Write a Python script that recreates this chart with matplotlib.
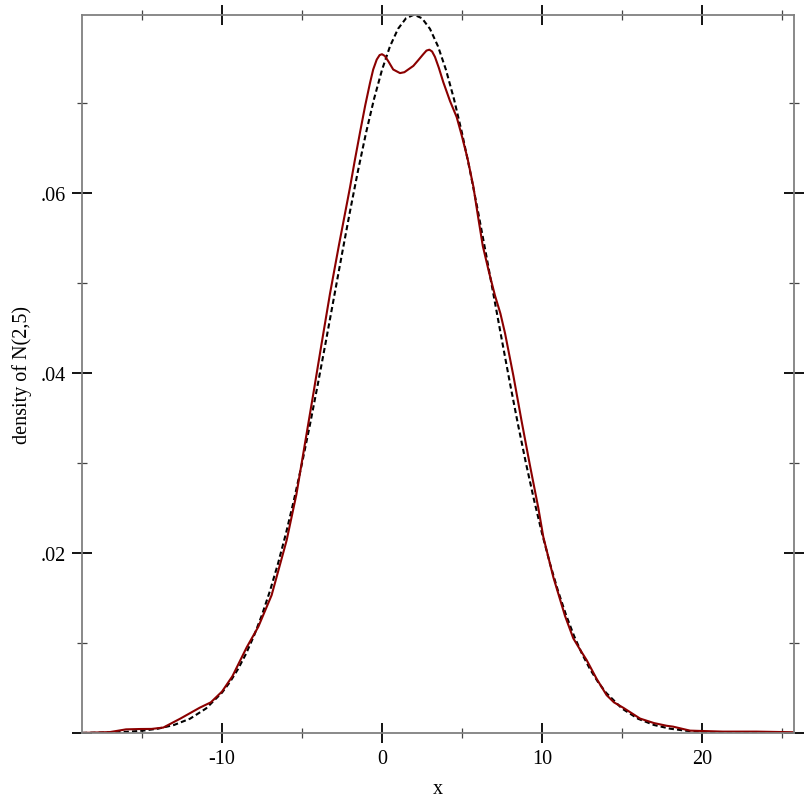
import matplotlib
matplotlib.use("Agg")
import matplotlib.pyplot as plt
from matplotlib.ticker import MultipleLocator, FuncFormatter

# kernel density estimate
kde_x = [-18.75, -17.0, -16.0, -15.1, -14.4, -13.67, -12.6, -11.4, -10.7, -10.0,
         -9.35, -8.46, -7.73, -6.9, -5.96, -5.35, -4.81, -4.29, -3.77, -3.25,
         -2.69, -2.0, -1.7, -1.375, -1.05, -0.75, -0.55, -0.33, -0.15, 0.0,
         0.18, 0.4, 0.7, 1.125, 1.4, 1.96, 2.25, 2.58, 2.78, 2.96,
         3.13, 3.31, 3.55, 3.83, 4.25, 4.67, 4.98, 5.35, 5.71, 6.0,
         6.3, 6.7, 7.06, 7.4, 7.69, 8.21, 8.73, 9.25, 9.77, 10.08,
         10.71, 11.44, 11.96, 12.4, 12.79, 13.42, 14.04, 14.5, 15.08, 16.13,
         17.0, 17.79, 18.2, 19.25, 21.3, 23.4, 25.75]
kde_y = [0.0, 0.0001, 0.0004, 0.00044, 0.00045, 0.0006, 0.0016, 0.0028, 0.0034, 0.0046,
         0.0063, 0.0095, 0.0118, 0.0153, 0.0214, 0.0265, 0.0322, 0.0377, 0.0433, 0.0488,
         0.0542, 0.0606, 0.0636, 0.0667, 0.0697, 0.0722, 0.0737, 0.0748, 0.0753, 0.0754,
         0.0752, 0.0746, 0.0737, 0.0733, 0.0734, 0.0741, 0.0747, 0.0754, 0.0758, 0.0759,
         0.0757, 0.0751, 0.0739, 0.0723, 0.0702, 0.0684, 0.0664, 0.0638, 0.0607, 0.0574,
         0.0541, 0.0511, 0.0486, 0.0466, 0.0444, 0.0397, 0.0346, 0.0297, 0.0250, 0.0218,
         0.0173, 0.0130, 0.0105, 0.0092, 0.0081, 0.0060, 0.0042, 0.0034, 0.0028, 0.0016,
         0.0011, 0.0008, 0.0007, 0.00026, 0.00015, 0.00015, 0.00008]

# N(2,5) density (dashed)
pdf_x = [-18.75, -18, -17, -16, -15, -14, -13, -12, -11, -10, -9.5, -9, -8.5, -8,
         -7.5, -7, -6.5, -6, -5.5, -5, -4.5, -4, -3.5, -3, -2.5, -2, -1.5, -1, -0.5,
         0, 0.5, 1, 1.5, 2, 2.5, 3, 3.5, 4, 4.5, 5, 5.5, 6, 6.5, 7, 7.5, 8, 8.5, 9,
         9.5, 10, 10.5, 11, 11.5, 12, 12.5, 13, 13.5, 14, 15, 16, 17, 18, 19,
         20, 21, 22, 23, 24, 25, 25.75]
pdf_y = [0.000015, 0.000027, 0.000058, 0.000122, 0.000246, 0.000477, 0.000886, 0.001583,
         0.002717, 0.004479, 0.005665, 0.007095, 0.008797, 0.010799, 0.013123, 0.015791,
         0.018810, 0.022185, 0.025903, 0.029947, 0.034274, 0.038839, 0.043571, 0.048396,
         0.053217, 0.057941, 0.062451, 0.066648, 0.070413, 0.073657, 0.076277, 0.078212,
         0.079390, 0.079788, 0.079390, 0.078212, 0.076277, 0.073657, 0.070413, 0.066648,
         0.062451, 0.057941, 0.053217, 0.048396, 0.043571, 0.038839, 0.034274, 0.029947,
         0.025903, 0.022185, 0.018810, 0.015791, 0.013123, 0.010799, 0.008797, 0.007095,
         0.005665, 0.004479, 0.002717, 0.001583, 0.000886, 0.000477, 0.000246, 0.000122,
         0.000058, 0.000027, 0.000012, 0.000005, 0.000002, 0.000001]

plt.rcParams['font.family'] = ['Liberation Serif', 'DejaVu Serif']

fig = plt.figure(figsize=(8.12, 8.12), dpi=100)
ax = fig.add_axes([0.101, 0.0961, 0.8768, 0.8846])

ax.plot(pdf_x, pdf_y, color="black", lw=1.5, linestyle=(0, (2.5, 1.5)))
ax.plot(kde_x, kde_y, color="#8b0000", lw=1.5)

ax.set_xlim(-18.75, 25.75)
ax.set_ylim(0, 0.07979)

ax.xaxis.set_major_locator(MultipleLocator(10))
ax.xaxis.set_minor_locator(MultipleLocator(5))
ax.yaxis.set_major_locator(MultipleLocator(0.02))
ax.yaxis.set_minor_locator(MultipleLocator(0.01))
ax.yaxis.set_major_formatter(FuncFormatter(lambda v, p: ("%.2f" % v).lstrip("0") if v > 0 else ""))
ax.xaxis.set_major_formatter(FuncFormatter(lambda v, p: "%d" % v))

for s in ax.spines.values():
    s.set_color("#808080")
    s.set_linewidth(1.3)

ax.tick_params(which="major", direction="inout", length=15, width=1.3, color="black",
               labelsize=14.5, pad=4, top=True, right=True)
ax.tick_params(which="minor", direction="inout", length=7.5, width=0.9, color="#444444",
               top=True, right=True)

ax.set_xlabel("x", fontsize=14.5, labelpad=8)
ax.set_ylabel("density of N(2,5)", fontsize=14.5, labelpad=6)

fig.savefig("out.png", dpi=100)
